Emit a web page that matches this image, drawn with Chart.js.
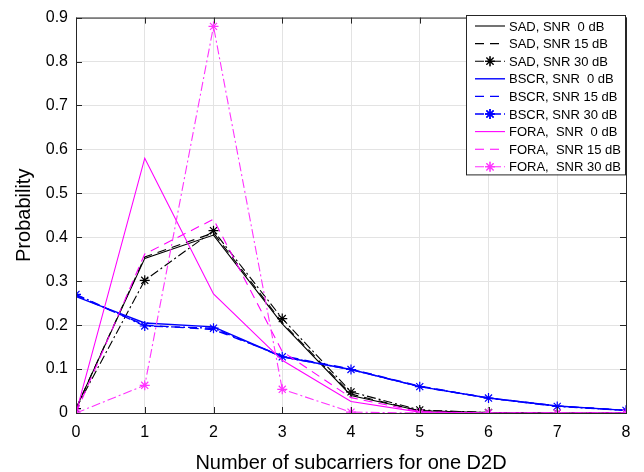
<!DOCTYPE html>
<html>
<head>
<meta charset="utf-8">
<script src="https://cdn.jsdelivr.net/npm/chart.js@4"></script>
<style>
  body { margin: 0; background: #fff; }
  #wrap { width: 644px; height: 472px; }
</style>
</head>
<body>
<div id="wrap"><canvas id="chart" width="644" height="472"></canvas></div>
<script>
// values
const subcarriers = [0, 1, 2, 3, 4, 5, 6, 7, 8];
const xTicks = [0, 1, 2, 3, 4, 5, 6, 7, 8];
const yTicks = [0, 0.1, 0.2, 0.3, 0.4, 0.5, 0.6, 0.7, 0.8, 0.9];

const sad0 = [0.01, 0.352, 0.405, 0.203, 0.04, 0.005, 0.001, 0, 0];
const sad15 = [0.01, 0.355, 0.41, 0.206, 0.043, 0.005, 0.001, 0, 0];
const sad30 = [0.01, 0.302, 0.415, 0.215, 0.048, 0.007, 0.001, 0, 0];
const bscr0 = [0.265, 0.205, 0.196, 0.128, 0.099, 0.06, 0.034, 0.016, 0.006];
const bscr15 = [0.268, 0.2, 0.19, 0.13, 0.1, 0.061, 0.034, 0.016, 0.006];
const bscr30 = [0.27, 0.198, 0.193, 0.128, 0.099, 0.06, 0.034, 0.015, 0.006];
const fora0 = [0, 0.58, 0.271, 0.12, 0.026, 0.002, 0, 0, 0];
const fora15 = [0, 0.362, 0.441, 0.14, 0.035, 0.003, 0, 0, 0];
const fora30 = [0, 0.063, 0.88, 0.054, 0.002, 0, 0, 0, 0];

const labels = [
  'SAD, SNR  0 dB', 'SAD, SNR 15 dB', 'SAD, SNR 30 dB',
  'BSCR, SNR  0 dB', 'BSCR, SNR 15 dB', 'BSCR, SNR 30 dB',
  'FORA,  SNR  0 dB', 'FORA,  SNR 15 dB', 'FORA,  SNR 30 dB'
];
const series = [sad0, sad15, sad30, bscr0, bscr15, bscr30, fora0, fora15, fora30];
const colors = ['#000000', '#000000', '#000000', '#0000ff', '#0000ff', '#0000ff', '#ff00ff', '#ff00ff', '#ff33ff'];
const dashes = [[], [9, 6], [9, 3, 2, 3], [], [9, 6], [9, 3, 2, 3], [], [9, 6], [9, 3, 2, 3]];
const markers = [false, false, true, false, false, true, false, false, true];

const FONT = '"Liberation Sans", Arial, sans-serif';

const datasets = series.map((vals, i) => ({
  label: labels[i],
  data: vals.map((v, j) => ({ x: subcarriers[j], y: v })),
  borderColor: colors[i],
  backgroundColor: colors[i],
  borderWidth: i >= 3 && i <= 5 ? 1.4 : 1.1,
  borderDash: dashes[i],
  pointStyle: markers[i] ? 'star' : false,
  pointRadius: markers[i] ? 5 : 0,
  pointBorderWidth: 1.2,
  tension: 0,
  order: 9 - i,
}));

// MATLAB-style box, inward ticks and legend inside the axes
const boxPlugin = {
  id: 'boxPlugin',
  afterDraw(chart) {
    const { ctx, chartArea: a, scales } = chart;
    ctx.save();
    ctx.strokeStyle = '#262626';
    ctx.lineWidth = 1;
    ctx.setLineDash([]);
    ctx.strokeRect(a.left + 0.5, a.top + 0.5, a.right - a.left, a.bottom - a.top);
    const t = 6;
    ctx.beginPath();
    xTicks.forEach(v => {
      const px = Math.round(scales.x.getPixelForValue(v)) + 0.5;
      ctx.moveTo(px, a.bottom); ctx.lineTo(px, a.bottom - t);
      ctx.moveTo(px, a.top); ctx.lineTo(px, a.top + t);
    });
    yTicks.forEach(v => {
      const py = Math.round(scales.y.getPixelForValue(v)) + 0.5;
      ctx.moveTo(a.left, py); ctx.lineTo(a.left + t, py);
      ctx.moveTo(a.right, py); ctx.lineTo(a.right - t, py);
    });
    ctx.stroke();

    // legend
    const bx = 466, by = 15, bw = a.right - 1 - bx, rowH = 17.6;
    const bh = rowH * datasets.length + 1;
    ctx.fillStyle = '#fff';
    ctx.fillRect(bx, by, bw, bh);
    ctx.strokeStyle = '#262626';
    ctx.strokeRect(bx + 0.5, by + 0.5, bw, bh);
    ctx.font = '13px ' + FONT;
    ctx.textBaseline = 'middle';
    chart.data.datasets.forEach((ds, i) => {
      const y = by + 11 + i * rowH;
      ctx.strokeStyle = ds.borderColor;
      ctx.lineWidth = ds.borderWidth;
      ctx.setLineDash(ds.borderDash);
      ctx.beginPath();
      ctx.moveTo(475, y); ctx.lineTo(505, y);
      ctx.stroke();
      ctx.setLineDash([]);
      if (ds.pointStyle) {
        Chart.helpers.drawPoint(ctx, { pointStyle: ds.pointStyle, radius: ds.pointRadius, borderWidth: ds.pointBorderWidth }, 490, y);
        ctx.stroke();
      }
      ctx.fillStyle = '#000';
      ctx.fillText(ds.label, 509, y + 1);
    });
    ctx.restore();
  }
};

const bgPlugin = {
  id: 'bg',
  beforeDraw(chart) {
    const c = chart.ctx;
    c.save();
    c.fillStyle = '#fff';
    c.fillRect(0, 0, chart.width, chart.height);
    c.restore();
  }
};

new Chart(document.getElementById('chart').getContext('2d'), {
  type: 'line',
  data: { datasets },
  options: {
    responsive: false,
    animation: false,
    layout: { padding: { left: 0, right: 18, top: 16, bottom: 0 } },
    plugins: { legend: { display: false }, tooltip: { enabled: false } },
    scales: {
      x: {
        type: 'linear',
        min: 0, max: 8,
        afterFit(scale) { scale.height = 59; },
        afterBuildTicks(scale) { scale.ticks = xTicks.map(v => ({ value: v })); },
        grid: { color: '#e3e3e3', drawTicks: false },
        border: { display: false },
        ticks: { padding: 10, color: '#000', font: { family: FONT, size: 16 } },
        title: { display: true, text: 'Number of subcarriers for one D2D', color: '#000', padding: { top: 0, bottom: -3 }, font: { family: FONT, size: 20 } }
      },
      y: {
        min: 0, max: 0.9,
        afterFit(scale) { scale.width = 76; },
        afterBuildTicks(scale) { scale.ticks = yTicks.map(v => ({ value: v })); },
        grid: { color: '#e3e3e3', drawTicks: false },
        border: { display: false },
        ticks: {
          padding: 8, color: '#000', font: { family: FONT, size: 16 },
          callback: v => (v === 0 ? '0' : v.toFixed(1))
        },
        title: { display: true, text: 'Probability', color: '#000', padding: { top: 12, bottom: 0 }, font: { family: FONT, size: 20 } }
      }
    }
  },
  plugins: [bgPlugin, boxPlugin]
});
</script>
</body>
</html>
